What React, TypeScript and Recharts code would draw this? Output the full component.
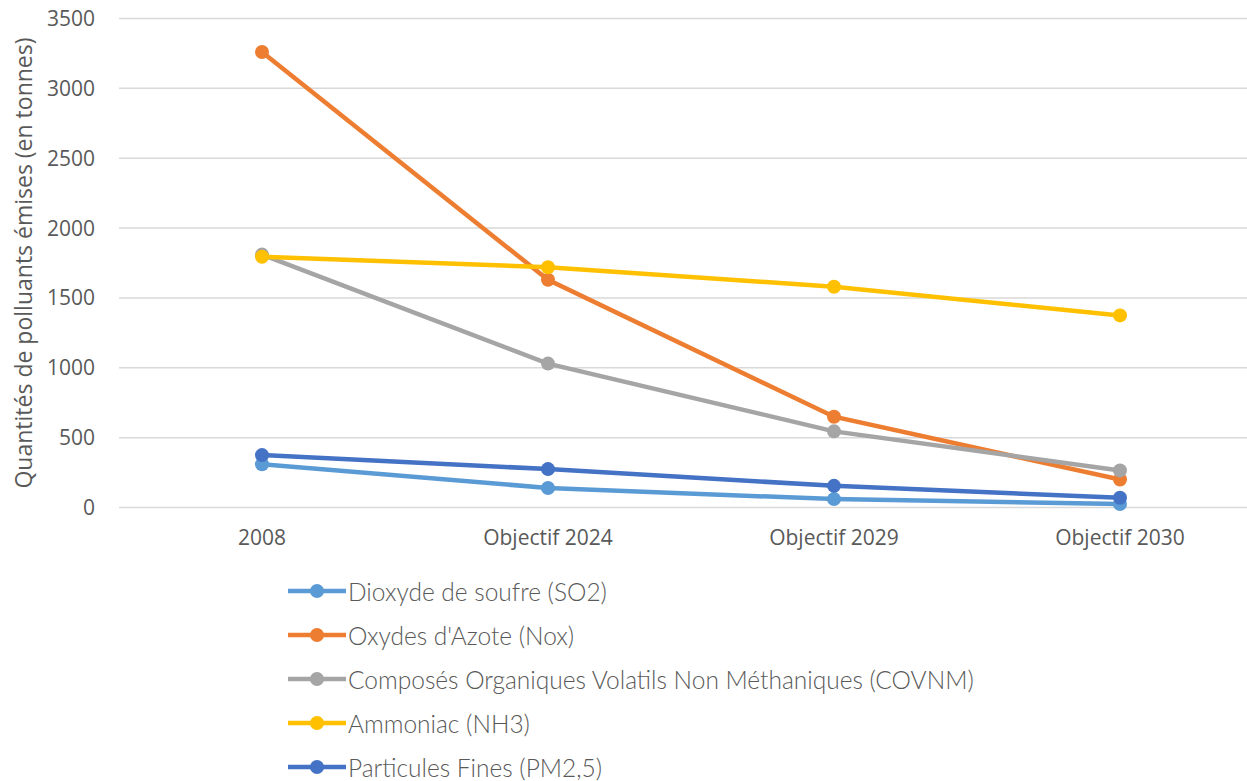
import { CartesianGrid, Legend, Line, LineChart, XAxis, YAxis } from "recharts";

const categories = ["2008", "Objectif 2024", "Objectif 2029", "Objectif 2030"];
const so2 = [310, 140, 60, 25];
const nox = [3260, 1630, 650, 200];
const covnm = [1810, 1030, 545, 265];
const nh3 = [1795, 1720, 1580, 1375];
const pm25 = [375, 275, 155, 70];
const yTicks = [0, 500, 1000, 1500, 2000, 2500, 3000, 3500];

const series = [
  { key: "so2", name: "Dioxyde de soufre (SO2)", color: "#5B9BD5", values: so2 },
  { key: "nox", name: "Oxydes d'Azote (Nox)", color: "#ED7D31", values: nox },
  { key: "covnm", name: "Composés Organiques Volatils Non Méthaniques (COVNM)", color: "#A5A5A5", values: covnm },
  { key: "nh3", name: "Ammoniac (NH3)", color: "#FFC000", values: nh3 },
  { key: "pm25", name: "Particules Fines (PM2,5)", color: "#4472C4", values: pm25 },
];

const data = categories.map((label, i) => {
  const row: Record<string, string | number> = { label };
  series.forEach((s) => {
    row[s.key] = s.values[i];
  });
  return row;
});

const tickStyle = { fill: "#595959", fontSize: 21, fontFamily: "Open Sans" };

function LegendBox() {
  return (
    <div style={{ fontFamily: "Lato", fontWeight: 300, fontSize: 24.5, color: "#595959" }}>
      {series.map((s) => (
        <div key={s.key} style={{ display: "flex", alignItems: "center", height: 44, whiteSpace: "nowrap" }}>
          <svg width={58} height={16} style={{ marginRight: 2 }}>
            <line x1={0} y1={8} x2={58} y2={8} stroke={s.color} strokeWidth={4.5} />
            <circle cx={29} cy={8} r={7} fill={s.color} />
          </svg>
          <span>{s.name}</span>
        </div>
      ))}
    </div>
  );
}

export default function App() {
  return (
    <div style={{ position: "absolute", left: 0, top: 0, width: 1247, height: 781, overflow: "hidden", background: "#fff" }}>
      <LineChart
        width={1270}
        height={781}
        data={data}
        margin={{ top: 18.5, right: 7, left: 0, bottom: 233.5 }}
      >
        <CartesianGrid stroke="#D9D9D9" strokeWidth={1.5} vertical={false} />
        <XAxis
          dataKey="label"
          scale="band"
          axisLine={false}
          tickLine={false}
          tickSize={0}
          tickMargin={23}
          height={40}
          tick={tickStyle}
        />
        <YAxis
          width={119}
          domain={[0, 3500]}
          ticks={yTicks}
          axisLine={false}
          tickLine={false}
          tickSize={0}
          tickMargin={24}
          tick={tickStyle}
          label={{
            value: "Quantités de polluants émises (en tonnes)",
            angle: -90,
            position: "center",
            dx: -35.5,
            dy: 0,
            style: { fill: "#595959", fontSize: 23, fontFamily: "Open Sans" },
          }}
        />
        {series.map((s) => (
          <Line
            key={s.key}
            type="linear"
            dataKey={s.key}
            name={s.name}
            stroke={s.color}
            strokeWidth={4.5}
            dot={{ r: 7, fill: s.color, stroke: s.color, strokeWidth: 0 }}
            activeDot={false}
            isAnimationActive={false}
          />
        ))}
        <Legend
          layout="vertical"
          align="center"
          verticalAlign="middle"
          content={() => <LegendBox />}
          wrapperStyle={{ left: 288, top: 569, width: "auto" }}
        />
      </LineChart>
    </div>
  );
}
